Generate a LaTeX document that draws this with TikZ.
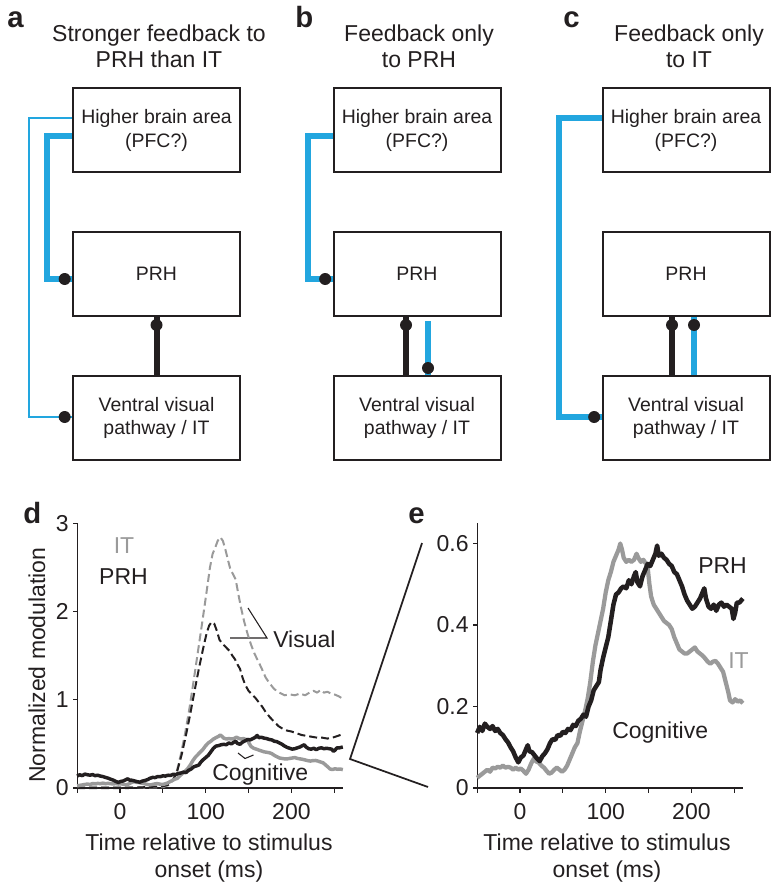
\documentclass[tikz,border=0pt]{standalone}
\usepackage{fontspec}
\setmainfont{Liberation Sans}
\usetikzlibrary{calc}
\definecolor{fbblue}{HTML}{22A6DF}
\definecolor{dotc}{HTML}{231F20}
\definecolor{itgray}{HTML}{9A9A9A}
\newcommand{\fbTitle}{\fontsize{17.25pt}{20pt}\selectfont}
\newcommand{\fbBox}{\fontsize{14.6pt}{17.5pt}\selectfont}
\newcommand{\fbLbl}{\fontsize{22pt}{24pt}\selectfont\bfseries}
\begin{document}
\begin{tikzpicture}[x=0.75pt,y=-0.75pt,
  boxnode/.style={draw=dotc, line width=1.5pt, minimum width=125.25pt, minimum height=63pt, inner sep=0pt, align=center, font=\fbBox, text=dotc},
  txt/.style={inner sep=0pt, font=\fbTitle, text=dotc},
  plbl/.style={inner sep=0pt, font=\fbLbl, text=dotc, anchor=base west},
  fbthin/.style={draw=fbblue, line width=1.5pt},
  fbthick/.style={draw=fbblue, line width=4.5pt},
  blk/.style={draw=dotc, line width=4.5pt},
  dotf/.style={fill=dotc},
  axis/.style={draw=dotc, line width=0.9pt},
  leader/.style={draw=dotc, line width=0.8pt},
  zoomln/.style={draw=dotc, line width=1.3pt},
  itvis/.style={draw=itgray, line width=1.5pt, dash pattern=on 6pt off 3pt, line join=round},
  prhvis/.style={draw=dotc, line width=1.5pt, dash pattern=on 6pt off 3pt, line join=round},
  itcogd/.style={draw=itgray, line width=2.6pt, line join=round},
  prhcogd/.style={draw=dotc, line width=2.6pt, line join=round},
  itcoge/.style={draw=itgray, line width=3.2pt, line join=round},
  prhcoge/.style={draw=dotc, line width=3.4pt, line join=round}
]
\useasboundingbox (0,0) rectangle (778,891);

% ---------- panel labels ----------
\node[plbl] (la) at (7,28) {a};
\node[plbl] (lb) at (295,28) {b};
\node[plbl] (lc) at (563,28) {c};
\node[plbl] (ld) at (23,523) {d};
\node[plbl] (le) at (408,523) {e};

% ---------- titles ----------
\node[txt, anchor=base] (ta1) at (159,42) {Stronger feedback to};
\node[txt, anchor=base] (ta2) at (159,68) {PRH than IT};
\node[txt, anchor=base] (tb1) at (419,42) {Feedback only};
\node[txt, anchor=base] (tb2) at (419,68) {to PRH};
\node[txt, anchor=base] (tc1) at (689,42) {Feedback only};
\node[txt, anchor=base] (tc2) at (689,68) {to IT};

% ---------- boxes ----------
\node[boxnode] (ha) at (156.5,130.5) {Higher brain area\\(PFC?)};
\node[boxnode] (pa) at (156.5,274) {PRH};
\node[boxnode] (va) at (156.5,418) {Ventral visual\\pathway / IT};
\node[boxnode] (hb) at (417,130.5) {Higher brain area\\(PFC?)};
\node[boxnode] (pb) at (417,274) {PRH};
\node[boxnode] (vb) at (417,418) {Ventral visual\\pathway / IT};
\node[boxnode] (hc) at (686,130.5) {Higher brain area\\(PFC?)};
\node[boxnode] (pc) at (686,274) {PRH};
\node[boxnode] (vc) at (686,418) {Ventral visual\\pathway / IT};

% ---------- panel a connectors ----------
\draw[fbthin] ([yshift=9.4pt]ha.west) -- ++(-43,0) |- ([yshift=0.75pt]va.west) coordinate (a1);
\fill[dotf] ([xshift=-5.5pt]a1) circle[radius=4.5pt];
\draw[fbthick] ([yshift=-4.1pt]ha.west) -- ++(-25,0) |- ([yshift=-3.75pt]pa.west) coordinate (a2);
\fill[dotf] ([xshift=-5.5pt]a2) circle[radius=4.5pt];
\draw[blk] (pa.south) -- (va.north);
\fill[dotf] ([yshift=-6pt]pa.south) circle[radius=4.5pt];

% ---------- panel b connectors ----------
\draw[fbthick] ([yshift=-4.1pt]hb.west) -- ++(-25,0) |- ([yshift=-3.75pt]pb.west) coordinate (b1);
\fill[dotf] ([xshift=-5.5pt]b1) circle[radius=4.5pt];
\draw[blk] ([xshift=-8.25pt]pb.south) -- ([xshift=-8.25pt]vb.north);
\fill[dotf] ([xshift=-8.25pt,yshift=-6pt]pb.south) circle[radius=4.5pt];
\draw[fbthick] ([xshift=8.25pt,yshift=-3pt]pb.south) -- ([xshift=8.25pt]vb.north);
\fill[dotf] ([xshift=8.25pt,yshift=5.25pt]vb.north) circle[radius=4.5pt];

% ---------- panel c connectors ----------
\draw[fbthick] ([yshift=9.4pt]hc.west) -- ++(-43,0) |- ([yshift=0.75pt]vc.west) coordinate (c1);
\fill[dotf] ([xshift=-5.5pt]c1) circle[radius=4.5pt];
\draw[blk] ([xshift=-10.5pt]pc.south) -- ([xshift=-10.5pt]vc.north);
\fill[dotf] ([xshift=-10.5pt,yshift=-6pt]pc.south) circle[radius=4.5pt];
\draw[fbthick] ([xshift=6pt]pc.south) -- ([xshift=6pt]vc.north);
\fill[dotf] ([xshift=6pt,yshift=-6pt]pc.south) circle[radius=4.5pt];

% ---------- panel d ----------
\node[txt, rotate=90] (dyl) at (37,665) {Normalized modulation};
\node[txt, anchor=base] (dxl1) at (209,850) {Time relative to stimulus};
\node[txt, anchor=base] (dxl2) at (209,877) {onset (ms)};
\node[txt, anchor=base, text=itgray] (dit) at (124,553) {IT};
\node[txt, anchor=base] (dprh) at (123.5,584) {PRH};
\node[txt, anchor=base west] (dvis) at (273,647) {Visual};
\node[txt, anchor=base west] (dcog) at (212,780) {Cognitive};
\coordinate (vv) at (267,638);
\draw[leader] (248,608) -- (vv) -- (230,638);
\draw[leader] (238,753) -- (245,758.5) -- (253.5,755);

\begin{scope}[shift={(90pt,-591pt)}, x=0.6428pt, y=66.225pt]
  \foreach \t in {-50,0,50,100,150,200,250} \draw[axis] (\t,0) -- ++(0pt,-3.4pt);
  \foreach \v in {0,1,2,3} {
    \draw[axis] (-50,\v) -- ++(-3.4pt,0pt);
    \node[txt, anchor=east] (dy\v) at ([xshift=-6.2pt]-50,\v) {\v};
  }
  \foreach \t in {0,100,200} \node[txt, anchor=north] (dx\t) at ([yshift=-11pt]\t,0) {\t};
  \draw[axis] (-50,3) -- (-50,0) -- (260,0);
  % visual curves
  \draw[itvis] plot coordinates {(-50,0.02) (-30,0.015) (-10,0.01) (10,0.01) (30,0.005) (50,0.01) (56,0.03) (61,0.08) (66,0.18) (71,0.38) (76,0.62) (81,0.9) (86,1.22) (91,1.55) (96,1.88) (101,2.22) (105,2.5) (108,2.65) (111,2.72) (114,2.8) (117,2.84) (120,2.8) (123,2.7) (126,2.58) (129,2.47) (132,2.42) (135,2.36) (138,2.2) (141,2.05) (145,1.88) (149,1.74) (153,1.62) (157,1.52) (161,1.44) (165,1.36) (170,1.25) (175,1.18) (180,1.12) (186,1.08) (192,1.05) (198,1.06) (204,1.05) (210,1.07) (216,1.05) (221,1.08) (226,1.1) (230,1.08) (234,1.11) (238,1.08) (242,1.09) (246,1.07) (250,1.06) (255,1.04) (260,1.01)};
  \draw[prhvis] plot coordinates {(-50,0.0) (-30,0.0) (-10,0.0) (10,0.0) (30,0.01) (50,0.02) (57,0.04) (62,0.09) (67,0.2) (72,0.38) (77,0.6) (82,0.84) (87,1.1) (92,1.35) (97,1.58) (101,1.75) (104,1.84) (107,1.88) (110,1.86) (113,1.78) (116,1.68) (119,1.64) (122,1.61) (125,1.58) (128,1.55) (131,1.5) (134,1.46) (137,1.4) (140,1.35) (143,1.25) (146,1.17) (150,1.1) (154,1.06) (158,1.02) (162,0.97) (166,0.92) (170,0.86) (175,0.8) (180,0.75) (185,0.7) (190,0.67) (195,0.65) (200,0.64) (206,0.62) (212,0.6) (218,0.59) (224,0.58) (230,0.57) (236,0.57) (242,0.56) (248,0.57) (254,0.59) (260,0.61)};
  % cognitive curves
  \draw[itcogd] plot coordinates {(-50,0.025) (-47,0.03) (-44,0.035) (-41,0.04) (-38,0.045) (-35,0.04) (-32,0.05) (-29,0.048) (-26,0.052) (-23,0.05) (-20,0.055) (-17,0.05) (-14,0.052) (-11,0.05) (-8,0.045) (-5,0.05) (-2,0.045) (1,0.048) (4,0.042) (7,0.035) (10,0.045) (13,0.06) (16,0.072) (19,0.065) (22,0.062) (25,0.055) (28,0.05) (31,0.042) (34,0.035) (37,0.038) (40,0.045) (43,0.05) (46,0.045) (49,0.04) (52,0.045) (55,0.055) (58,0.07) (61,0.085) (64,0.1) (67,0.11) (70,0.14) (73,0.165) (76,0.19) (79,0.22) (82,0.26) (85,0.31) (88,0.35) (91,0.38) (94,0.41) (97,0.44) (100,0.48) (103,0.51) (106,0.53) (109,0.555) (112,0.57) (115,0.585) (117,0.6) (119,0.585) (121,0.565) (124,0.555) (127,0.56) (130,0.555) (133,0.56) (136,0.575) (138,0.565) (141,0.555) (144,0.56) (147,0.55) (149,0.54) (151,0.5) (153,0.47) (156,0.45) (159,0.44) (162,0.43) (165,0.42) (168,0.41) (171,0.405) (174,0.4) (177,0.39) (180,0.37) (183,0.355) (186,0.34) (189,0.335) (192,0.33) (195,0.33) (198,0.335) (201,0.34) (204,0.345) (207,0.335) (210,0.33) (213,0.325) (216,0.318) (219,0.31) (222,0.305) (225,0.31) (228,0.312) (231,0.305) (234,0.295) (237,0.285) (240,0.26) (243,0.235) (245,0.215) (248,0.21) (251,0.218) (254,0.212) (257,0.215) (260,0.208)};
  \draw[prhcogd] plot coordinates {(-50,0.135) (-47,0.15) (-44,0.14) (-41,0.158) (-38,0.15) (-35,0.145) (-32,0.152) (-29,0.14) (-26,0.145) (-23,0.135) (-20,0.13) (-17,0.12) (-14,0.112) (-11,0.1) (-8,0.09) (-5,0.075) (-2,0.063) (1,0.075) (4,0.08) (7,0.095) (9,0.105) (11,0.09) (14,0.088) (17,0.08) (20,0.072) (23,0.066) (26,0.078) (29,0.085) (32,0.095) (35,0.11) (38,0.12) (41,0.118) (44,0.13) (47,0.128) (50,0.138) (53,0.135) (56,0.145) (59,0.142) (62,0.155) (65,0.152) (68,0.165) (71,0.17) (74,0.18) (77,0.175) (80,0.2) (83,0.215) (86,0.24) (89,0.25) (92,0.26) (94,0.29) (97,0.32) (100,0.345) (103,0.37) (106,0.41) (109,0.45) (112,0.475) (115,0.48) (118,0.49) (121,0.495) (124,0.49) (127,0.51) (130,0.5) (133,0.52) (135,0.53) (137,0.505) (140,0.495) (143,0.52) (146,0.535) (149,0.55) (152,0.545) (155,0.56) (158,0.575) (160,0.595) (162,0.57) (165,0.575) (168,0.565) (171,0.56) (174,0.55) (177,0.545) (180,0.53) (183,0.525) (186,0.51) (189,0.495) (192,0.475) (195,0.46) (198,0.45) (201,0.44) (204,0.445) (207,0.455) (210,0.465) (213,0.48) (215,0.49) (217,0.465) (220,0.445) (223,0.44) (226,0.45) (229,0.435) (232,0.45) (235,0.455) (238,0.445) (241,0.45) (244,0.445) (247,0.44) (249,0.415) (251,0.43) (253,0.455) (256,0.455) (258,0.46) (260,0.465)};
\end{scope}

% ---------- zoom lines ----------
\coordinate (zv) at (350,759);
\coordinate (zu) at (422,543);
\coordinate (zl) at (428,787);
\draw[zoomln] (zu) -- (zv) -- (zl);

% ---------- panel e ----------
\node[txt, anchor=base] (exl1) at (607,850) {Time relative to stimulus};
\node[txt, anchor=base] (exl2) at (607,877) {onset (ms)};
\node[txt, anchor=base west] (eprh) at (698,573) {PRH};
\node[txt, anchor=base west, text=itgray] (eit) at (728,668) {IT};
\node[txt, anchor=base west] (ecog) at (612,738) {Cognitive};

\begin{scope}[shift={(390pt,-591pt)}, x=0.6428pt, y=305.6pt]
  \foreach \t in {-50,0,50,100,150,200,250} \draw[axis] (\t,0) -- ++(0pt,-3.4pt);
  \foreach \v/\n in {0/0,0.2/1,0.4/2,0.6/3} {
    \draw[axis] (-50,\v) -- ++(-3.4pt,0pt);
    \node[txt, anchor=east] (ey\n) at ([xshift=-6.2pt]-50,\v) {\v};
  }
  \foreach \t in {0,100,200} \node[txt, anchor=north] (ex\t) at ([yshift=-11pt]\t,0) {\t};
  \draw[axis] (-50,0.65) -- (-50,0) -- (260,0);
  \draw[itcoge] plot coordinates {(-50,0.025) (-47,0.03) (-44,0.035) (-41,0.04) (-38,0.045) (-35,0.04) (-32,0.05) (-29,0.048) (-26,0.052) (-23,0.05) (-20,0.055) (-17,0.05) (-14,0.052) (-11,0.05) (-8,0.045) (-5,0.05) (-2,0.045) (1,0.048) (4,0.042) (7,0.035) (10,0.045) (13,0.06) (16,0.072) (19,0.065) (22,0.062) (25,0.055) (28,0.05) (31,0.042) (34,0.035) (37,0.038) (40,0.045) (43,0.05) (46,0.045) (49,0.04) (52,0.045) (55,0.055) (58,0.07) (61,0.085) (64,0.1) (67,0.11) (70,0.14) (73,0.165) (76,0.19) (79,0.22) (82,0.26) (85,0.31) (88,0.35) (91,0.38) (94,0.41) (97,0.44) (100,0.48) (103,0.51) (106,0.53) (109,0.555) (112,0.57) (115,0.585) (117,0.6) (119,0.585) (121,0.565) (124,0.555) (127,0.56) (130,0.555) (133,0.56) (136,0.575) (138,0.565) (141,0.555) (144,0.56) (147,0.55) (149,0.54) (151,0.5) (153,0.47) (156,0.45) (159,0.44) (162,0.43) (165,0.42) (168,0.41) (171,0.405) (174,0.4) (177,0.39) (180,0.37) (183,0.355) (186,0.34) (189,0.335) (192,0.33) (195,0.33) (198,0.335) (201,0.34) (204,0.345) (207,0.335) (210,0.33) (213,0.325) (216,0.318) (219,0.31) (222,0.305) (225,0.31) (228,0.312) (231,0.305) (234,0.295) (237,0.285) (240,0.26) (243,0.235) (245,0.215) (248,0.21) (251,0.218) (254,0.212) (257,0.215) (260,0.208)};
  \draw[prhcoge] plot coordinates {(-50,0.135) (-47,0.15) (-44,0.14) (-41,0.158) (-38,0.15) (-35,0.145) (-32,0.152) (-29,0.14) (-26,0.145) (-23,0.135) (-20,0.13) (-17,0.12) (-14,0.112) (-11,0.1) (-8,0.09) (-5,0.075) (-2,0.063) (1,0.075) (4,0.08) (7,0.095) (9,0.105) (11,0.09) (14,0.088) (17,0.08) (20,0.072) (23,0.066) (26,0.078) (29,0.085) (32,0.095) (35,0.11) (38,0.12) (41,0.118) (44,0.13) (47,0.128) (50,0.138) (53,0.135) (56,0.145) (59,0.142) (62,0.155) (65,0.152) (68,0.165) (71,0.17) (74,0.18) (77,0.175) (80,0.2) (83,0.215) (86,0.24) (89,0.25) (92,0.26) (94,0.29) (97,0.32) (100,0.345) (103,0.37) (106,0.41) (109,0.45) (112,0.475) (115,0.48) (118,0.49) (121,0.495) (124,0.49) (127,0.51) (130,0.5) (133,0.52) (135,0.53) (137,0.505) (140,0.495) (143,0.52) (146,0.535) (149,0.55) (152,0.545) (155,0.56) (158,0.575) (160,0.595) (162,0.57) (165,0.575) (168,0.565) (171,0.56) (174,0.55) (177,0.545) (180,0.53) (183,0.525) (186,0.51) (189,0.495) (192,0.475) (195,0.46) (198,0.45) (201,0.44) (204,0.445) (207,0.455) (210,0.465) (213,0.48) (215,0.49) (217,0.465) (220,0.445) (223,0.44) (226,0.45) (229,0.435) (232,0.45) (235,0.455) (238,0.445) (241,0.45) (244,0.445) (247,0.44) (249,0.415) (251,0.43) (253,0.455) (256,0.455) (258,0.46) (260,0.465)};
\end{scope}
\end{tikzpicture}
\end{document}
